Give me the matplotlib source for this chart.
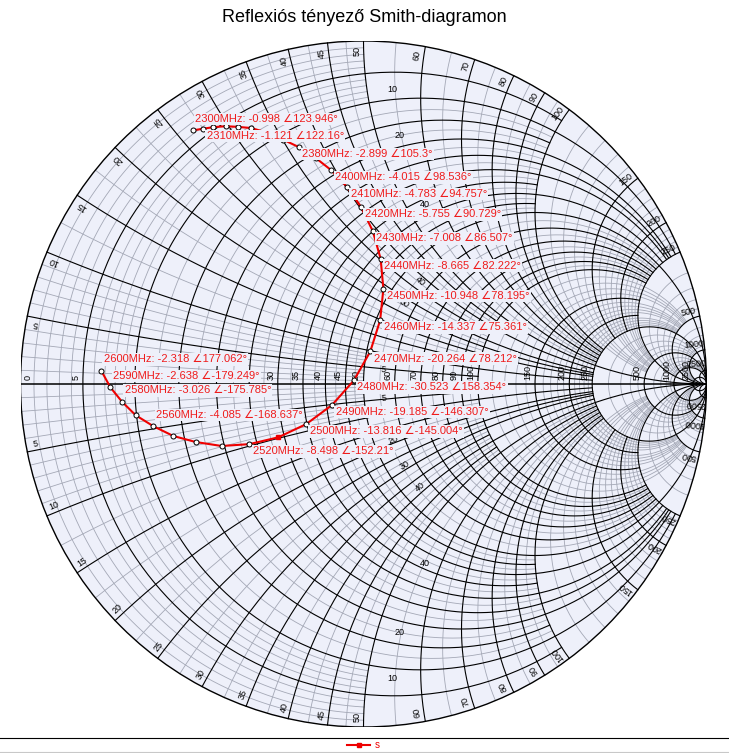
import numpy as np
import matplotlib.pyplot as plt

plt.rcParams['font.family'] = ['Liberation Sans', 'DejaVu Sans']

# mért reflexiós tényező (dB, fok)
freq_mhz = list(range(2300, 2601, 10))
s_db = [-0.998, -1.121, -1.229, -1.391, -1.577, -1.777, -2.103, -2.499, -2.899, -3.440,
        -4.015, -4.783, -5.755, -7.008, -8.665, -10.948, -14.337, -20.264, -30.523, -19.185,
        -13.816, -10.66, -8.498, -6.91, -5.72, -4.81, -4.085, -3.475, -3.026, -2.638, -2.318]
s_deg = [123.946, 122.16, 120.4, 118.1, 116.0, 113.7, 111.0, 108.2, 105.3, 101.9,
         98.536, 94.757, 90.729, 86.507, 82.222, 78.195, 75.361, 78.212, 158.354, -146.307,
         -145.004, -147.97, -152.21, -156.39, -160.93, -164.71, -168.637, -172.18, -175.785, -179.249, 177.062]
label_freqs = [2300, 2310, 2380, 2400, 2410, 2420, 2430, 2440, 2450, 2460, 2470,
               2480, 2490, 2500, 2520, 2560, 2580, 2590, 2600]
label_above = [2300, 2560, 2580, 2590, 2600]
square_freq = 2510

# diagram feliratai (ohm)
r_label_ohm = [5, 30, 35, 40, 45, 50, 60, 70, 80, 90, 100, 150, 200, 250, 500, 1000, 2500]
x_label_ohm = [5, 10, 15, 20, 25, 30, 35, 40, 45, 50, 60, 70, 80, 90, 100, 150, 200, 250, 500, 1000, 2500]
r_inner_ohm = [10, 20, 40]
x_inner_ohm = [5, 20, 30, 40]
Z0 = 50.0

BG = '#eef0fa'
PX = 1 / 343.0

fig = plt.figure(figsize=(7.29, 7.53), dpi=100)
ax = fig.add_axes([20.5 / 729, 26 / 753, 686 / 729, 686 / 753])
ax.set_xlim(-1, 1)
ax.set_ylim(-1, 1)
ax.set_aspect('equal')
ax.axis('off')


def gamma(z):
    return (z - 1) / (z + 1)


def r_circle(r, xmax, n=400):
    if xmax is None:
        t = np.linspace(-np.pi / 2 + 1e-5, np.pi / 2 - 1e-5, n)
    else:
        t = np.linspace(-np.arctan(xmax / (1 + r)), np.arctan(xmax / (1 + r)), n)
    g = gamma(r + 1j * (1 + r) * np.tan(t))
    return g.real, g.imag


def x_arc(x, rmax, n=300):
    c = max(abs(x), 0.05)
    top = np.pi / 2 - 1e-5 if rmax is None else np.arctan(rmax / c)
    t = np.linspace(0, top, n)
    g = gamma(c * np.tan(t) + 1j * x)
    return g.real, g.imag


def steps(a, b, s, skip):
    vals = np.round(np.arange(a, b + s / 2, s), 4)
    return [v for v in vals if not any(abs(v - k) < 1e-6 for k in skip)]


majors = [0.1, 0.2, 0.3, 0.4, 0.5, 0.6, 0.7, 0.8, 0.9, 1.0, 1.2, 1.4, 1.6, 1.8, 2.0, 3, 4, 5, 10, 20, 50]

# (értékek, határ): r-köröknél |x| határ, x-íveknél r határ
minor_spec = [
    (steps(0.02, 0.2, 0.02, majors), 1.0),
    (steps(0.25, 1.0, 0.05, majors), 2.0),
    (steps(1.1, 2.0, 0.1, majors), 5.0),
    (steps(2.2, 5.0, 0.2, majors), 10.0),
    (steps(6, 10, 1, majors), 20.0),
    (steps(12, 20, 2, majors), 50.0),
]
major_spec = [
    ([0.1, 0.3, 0.7, 0.9], 2.0),
    ([0.2, 0.4, 0.5, 0.6, 0.8, 1.2, 1.4, 1.6, 1.8, 2.0, 3, 4], 5.0),
    ([1.0, 5, 10, 20, 50], None),
]

ax.add_patch(plt.Circle((0, 0), 1, facecolor=BG, edgecolor='none', zorder=0))

for spec, col, lw, zo in [(minor_spec, '#a4a8b6', 0.6, 1), (major_spec, 'black', 0.8, 2)]:
    for vals, lim in spec:
        for v in vals:
            gx, gy = r_circle(v, lim)
            ax.plot(gx, gy, color=col, lw=lw, zorder=zo)
            for sgn in (1, -1):
                gx, gy = x_arc(sgn * v, lim)
                ax.plot(gx, gy, color=col, lw=lw, zorder=zo)

ax.plot([-1, 1], [0, 0], color='black', lw=1.1, zorder=3)
ax.add_patch(plt.Circle((0, 0), 1, facecolor='none', edgecolor='black', lw=1.0, zorder=3))

lab = dict(fontsize=6.5, zorder=4, rotation_mode='anchor')

# ellenállás feliratok a vízszintes tengely fölött
ax.text(-1 + 8 * PX, 4 * PX, '0', rotation=90, ha='left', va='center', **lab)
for R in r_label_ohm:
    g = gamma(R / Z0)
    ax.text(g - 7 * PX, 4 * PX, str(R), rotation=90, ha='left', va='center', **lab)

# ellenállás feliratok a +-50 ohm reaktancia mentén
for R in r_inner_ohm:
    for sgn in (1, -1):
        g = gamma(R / Z0 + sgn * 1.1j)
        ax.text(g.real - 4 * PX, g.imag + sgn * 10 * PX, str(R), ha='center', va='center', **lab)

# reaktancia feliratok az 50 ohm kör mentén
for X in x_inner_ohm:
    for sgn in (1, -1):
        x = sgn * 0.95 * X / Z0
        g = gamma(1.12 + 1j * x)
        d = gamma(1.3 + 1j * x) - gamma(0.95 + 1j * x)
        rot = np.degrees(np.angle(d))
        if rot < -90:
            rot += 180
        if rot > 90:
            rot -= 180
        ax.text(g.real, g.imag, str(X), rotation=rot, ha='center', va='center', **lab)

# reaktancia feliratok a kerületen
for X in x_label_ohm:
    for sgn in (1, -1):
        th = np.angle(gamma(1j * sgn * X / Z0))
        th2 = th + sgn * np.radians(1.1)
        rot = np.degrees(th) if sgn > 0 else np.degrees(th) + 180
        ax.text(0.971 * np.cos(th2), 0.971 * np.sin(th2), str(X), rotation=rot,
                ha='center', va='center', **lab)

# mérési görbe
mag = 10 ** (np.array(s_db) / 20)
ang = np.radians(s_deg)
gx = mag * np.cos(ang)
gy = mag * np.sin(ang)
ax.plot(gx, gy, color='#ee0000', lw=1.5, zorder=5)
for i, f in enumerate(freq_mhz):
    if f == square_freq:
        ax.plot(gx[i], gy[i], 's', ms=3.5, color='#ee0000', zorder=6)
    else:
        ax.plot(gx[i], gy[i], 'o', ms=3.6, mfc='white', mec='black', mew=0.7, zorder=6)

for i, f in enumerate(freq_mhz):
    if f not in label_freqs:
        continue
    txt = '%dMHz: %s ∠%s°' % (f, ('%.3f' % s_db[i]).rstrip('0').rstrip('.'),
                                  ('%.3f' % s_deg[i]).rstrip('0').rstrip('.'))
    if f in label_above:
        off, va = (1.8, 6.0), 'baseline'
    else:
        off, va = (2.5, -1.5), 'top'
    ax.annotate(txt, (gx[i], gy[i]), xytext=off, textcoords='offset points',
                ha='left', va=va, fontsize=8, color='#ee1c1c', zorder=7,
                bbox=dict(boxstyle='square,pad=0.12', fc=BG, ec='none'))

fig.text(0.5, 1 - 17 / 753, 'Reflexiós tényező Smith-diagramon', ha='center', va='center', fontsize=13)

# jelmagyarázat
fig.add_artist(plt.Line2D([0, 1], [1 - 738 / 753, 1 - 738 / 753], color='black', lw=0.8))
fig.add_artist(plt.Line2D([0, 1], [1 - 752 / 753, 1 - 752 / 753], color='#c8c8c8', lw=0.8))
ly = 1 - 745 / 753
fig.add_artist(plt.Line2D([347 / 729, 370 / 729], [ly, ly], color='#ee0000', lw=1.5))
fig.add_artist(plt.Line2D([358.5 / 729], [ly], marker='s', ms=3, color='#ee0000'))
fig.text(375 / 729, ly, 's', color='#ee0000', fontsize=7, va='center')

fig.savefig('out.png', dpi=100)
